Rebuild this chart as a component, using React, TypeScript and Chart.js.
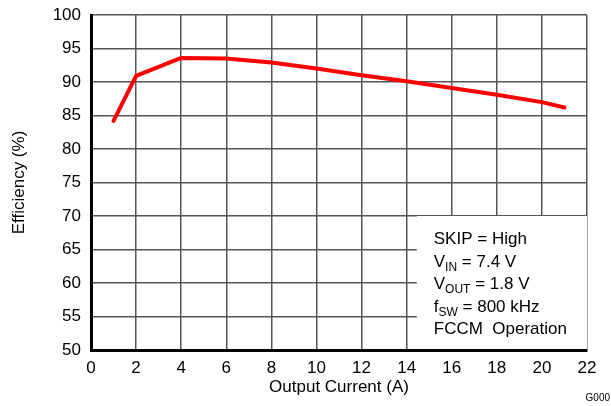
import React, { useEffect, useRef } from "react";
import { Chart, registerables } from "chart.js";

Chart.register(...registerables);

const currentA = [1, 2, 4, 6, 8, 10, 12, 14, 16, 18, 20, 21];
const efficiency = [84.2, 90.9, 93.6, 93.5, 92.9, 92.0, 91.0, 90.1, 89.1, 88.1, 87.0, 86.2];
const xTitle = "Output Current (A)";
const yTitle = "Efficiency (%)";
const boxLines: [string, string, string][] = [
  ["SKIP = High", "", ""],
  ["V", "IN", " = 7.4 V"],
  ["V", "OUT", " = 1.8 V"],
  ["f", "SW", " = 800 kHz"],
  ["FCCM  Operation", "", ""],
];
const boxFrom = { x: 14.45, y: 70 };
const FONT = "'Liberation Sans', Arial, sans-serif";

export default function App() {
  const ref = useRef<HTMLCanvasElement>(null);
  useEffect(() => {
    document.body.style.margin = "0";
    const boxPlugin = {
      id: "boxPlugin",
      beforeDatasetsDraw(chart: any) {
        const { ctx, chartArea, scales } = chart;
        const x0 = scales.x.getPixelForValue(boxFrom.x);
        const y0 = scales.y.getPixelForValue(boxFrom.y);
        ctx.save();
        ctx.fillStyle = "#ffffff";
        ctx.fillRect(x0, y0, chartArea.right - x0, chartArea.bottom - y0);
        ctx.fillStyle = "#000";
        ctx.textBaseline = "alphabetic";
        ctx.textAlign = "left";
        const lx = x0 + 17;
        let by = y0 + 28;
        for (const [a, sub, b] of boxLines) {
          ctx.font = `17px ${FONT}`;
          ctx.fillText(a, lx, by);
          let cx = lx + ctx.measureText(a).width;
          if (sub) {
            ctx.font = `12px ${FONT}`;
            ctx.fillText(sub, cx, by + 4);
            cx += ctx.measureText(sub).width;
            ctx.font = `17px ${FONT}`;
            ctx.fillText(b, cx, by);
          }
          by += 22.5;
        }
        ctx.restore();
      },
      afterDraw(chart: any) {
        const { ctx, width, height } = chart;
        ctx.save();
        ctx.font = `10px ${FONT}`;
        ctx.fillStyle = "#000";
        ctx.textAlign = "right";
        ctx.textBaseline = "alphabetic";
        ctx.fillText("G000", width - 1, height - 5);
        ctx.restore();
      },
    };
    const chart = new Chart(ref.current!, {
      type: "line",
      data: {
        datasets: [
          {
            data: currentA.map((x, i) => ({ x, y: efficiency[i] })),
            borderColor: "#ff0000",
            borderWidth: 4,
            pointRadius: 0,
            tension: 0,
            borderCapStyle: "round",
            borderJoinStyle: "round",
          },
        ],
      },
      options: {
        animation: false,
        responsive: false,
        devicePixelRatio: 1,
        layout: { padding: { left: 0, top: 15, right: 24, bottom: 0 } },
        plugins: { legend: { display: false }, tooltip: { enabled: false } },
        scales: {
          x: {
            type: "linear",
            min: 0,
            max: 22,
            afterFit: (s: any) => { s.height = 56; s.paddingLeft = 0; s.paddingRight = 0; },
            ticks: { stepSize: 2, color: "#000", font: { family: FONT, size: 17 }, padding: 8, maxRotation: 0 },
            grid: { color: "#555555", lineWidth: 1.5, drawTicks: false },
            border: { color: "#000", width: 3, z: 1 },
            title: { display: true, text: xTitle, color: "#000", font: { family: FONT, size: 17 }, padding: { top: 0, bottom: 8 } },
          },
          y: {
            min: 50,
            max: 100,
            afterFit: (s: any) => { s.width = 91; s.paddingTop = 0; s.paddingBottom = 0; },
            ticks: { stepSize: 5, color: "#000", font: { family: FONT, size: 17 }, padding: 10 },
            grid: { color: "#555555", lineWidth: 1.5, drawTicks: false },
            border: { color: "#000", width: 3, z: 1 },
            title: { display: true, text: yTitle, color: "#000", font: { family: FONT, size: 17 }, padding: { top: 9, bottom: 0 } },
          },
        },
      },
      plugins: [boxPlugin],
    } as any);
    return () => chart.destroy();
  }, []);
  return <canvas ref={ref} width={611} height={406} style={{ display: "block", width: 611, height: 406 }} />;
}
